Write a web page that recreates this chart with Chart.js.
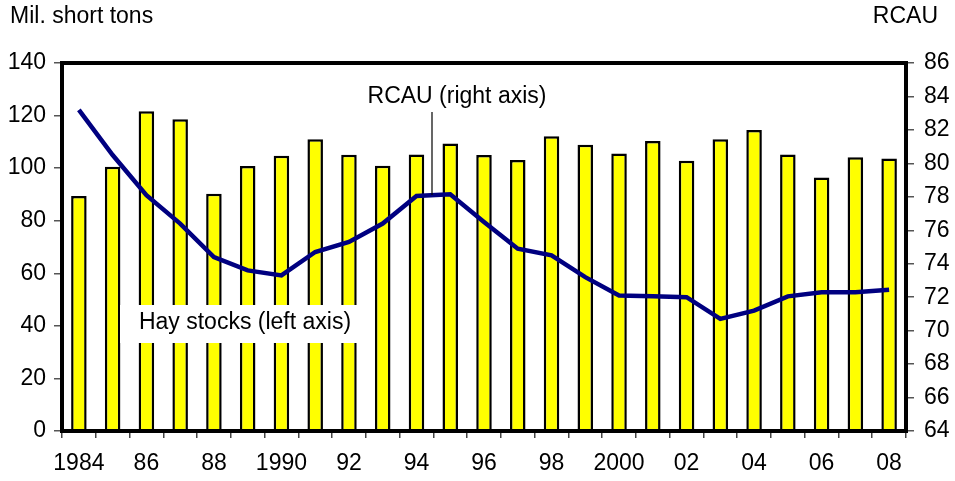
<!DOCTYPE html>
<html>
<head>
<meta charset="utf-8">
<script src="https://cdn.jsdelivr.net/npm/chart.js@4.4.1/dist/chart.umd.min.js"></script>
<style>
  html, body { margin: 0; padding: 0; background: #fff; }
  #wrap { width: 955px; height: 481px; position: relative; }
</style>
</head>
<body>
<div id="wrap"><canvas id="chart" width="955" height="481"></canvas></div>
<script>
// Years on the x axis and the labels shown under them
const years = ['1984', '1985', '1986', '1987', '1988', '1989', '1990', '1991', '1992', '1993',
    '1994', '1995', '1996', '1997', '1998', '1999', '2000', '2001', '2002', '2003',
    '2004', '2005', '2006', '2007', '2008'];
const yearLabels = ['1984', '', '86', '', '88', '', '1990', '', '92', '', '94', '', '96', '',
    '98', '', '2000', '', '02', '', '04', '', '06', '', '08'];

// Hay stocks, million short tons (left axis)
const hayStocks = [89.4, 100.5, 121.6, 118.6, 90.3, 100.8, 104.7, 111.0, 105.1, 100.9,
    105.2, 109.4, 105.0, 103.1, 112.1, 108.9, 105.6, 110.3, 102.8, 111.0,
    114.5, 105.2, 96.4, 104.1, 103.7];

// Roughage-consuming animal units (right axis)
const rcau = [83.2, 80.5, 78.1, 76.4, 74.4, 73.6, 73.3, 74.7, 75.3, 76.4,
    78.05, 78.15, 76.5, 74.9, 74.5, 73.2, 72.1, 72.05, 72.0, 70.7,
    71.2, 72.05, 72.3, 72.3, 72.45];

// Axis ranges
const leftTicks = [0, 20, 40, 60, 80, 100, 120, 140];
const rightTicks = [64, 66, 68, 70, 72, 74, 76, 78, 80, 82, 84, 86];

const FONT = 'Liberation Sans, Arial, sans-serif';
const FONT_SIZE = 23;

// Frame round the plot area plus the text labels
const decorations = {
    id: 'decorations',
    afterDatasetsDraw(chart) {
        const ctx = chart.ctx;
        const area = chart.chartArea;
        ctx.save();

        // White box behind the hay stocks label
        ctx.fillStyle = '#fff';
        ctx.fillRect(120, 305, 237, 38);
        ctx.fillStyle = '#000';
        ctx.font = FONT_SIZE + 'px ' + FONT;
        ctx.textBaseline = 'middle';
        ctx.textAlign = 'center';
        ctx.fillText('Hay stocks (left axis)', 245, 323);

        // RCAU label with leader line
        ctx.fillText('RCAU (right axis)', 457, 97);
        ctx.strokeStyle = '#000';
        ctx.lineWidth = 1.2;
        ctx.beginPath();
        ctx.moveTo(432, 112);
        ctx.lineTo(432, 195);
        ctx.stroke();

        // Axis titles
        ctx.textAlign = 'left';
        ctx.fillText('Mil. short tons', 10, 17);
        ctx.textAlign = 'right';
        ctx.fillText('RCAU', 938, 17);

        // Plot frame
        ctx.lineWidth = 4;
        ctx.strokeRect(area.left, area.top, area.right - area.left, area.bottom - area.top);
        ctx.restore();
    }
};

const ctx = document.getElementById('chart').getContext('2d');
new Chart(ctx, {
    type: 'bar',
    data: {
        labels: years,
        datasets: [
            {
                type: 'line',
                label: 'RCAU (right axis)',
                data: rcau,
                borderColor: '#000080',
                borderWidth: 4.5,
                pointRadius: 0,
                tension: 0,
                yAxisID: 'y1',
                order: 0
            },
            {
                label: 'Hay stocks (left axis)',
                data: hayStocks,
                backgroundColor: '#ffff00',
                borderColor: '#000',
                borderWidth: 2.5,
                barPercentage: 0.46,
                categoryPercentage: 1,
                yAxisID: 'y',
                order: 1
            }
        ]
    },
    options: {
        responsive: false,
        animation: false,
        layout: { padding: { top: 63, left: 0, right: 0, bottom: 0 } },
        plugins: {
            legend: { display: false },
            tooltip: { enabled: false }
        },
        scales: {
            x: {
                grid: {
                    offset: true,
                    drawOnChartArea: false,
                    drawTicks: true,
                    tickLength: 7,
                    color: '#444',
                    lineWidth: 1.5
                },
                border: { display: false },
                ticks: {
                    autoSkip: false,
                    maxRotation: 0,
                    padding: 12,
                    color: '#000',
                    font: { family: FONT, size: FONT_SIZE },
                    callback: (value, index) => yearLabels[index]
                },
                afterFit: (scale) => { scale.height = 50; }
            },
            y: {
                position: 'left',
                min: leftTicks[0],
                max: leftTicks[leftTicks.length - 1],
                afterBuildTicks: (scale) => { scale.ticks = leftTicks.map(v => ({ value: v })); },
                grid: {
                    drawOnChartArea: false,
                    tickLength: 8,
                    color: '#555',
                    lineWidth: 1.5
                },
                border: { display: false },
                ticks: {
                    padding: 8,
                    color: '#000',
                    font: { family: FONT, size: FONT_SIZE }
                },
                afterFit: (scale) => { scale.width = 62; }
            },
            y1: {
                position: 'right',
                min: rightTicks[0],
                max: rightTicks[rightTicks.length - 1],
                afterBuildTicks: (scale) => { scale.ticks = rightTicks.map(v => ({ value: v })); },
                grid: {
                    drawOnChartArea: false,
                    tickLength: 8,
                    color: '#555',
                    lineWidth: 1.5
                },
                border: { display: false },
                ticks: {
                    padding: 10,
                    color: '#000',
                    font: { family: FONT, size: FONT_SIZE }
                },
                afterFit: (scale) => { scale.width = 49; }
            }
        }
    },
    plugins: [decorations]
});
</script>
</body>
</html>
